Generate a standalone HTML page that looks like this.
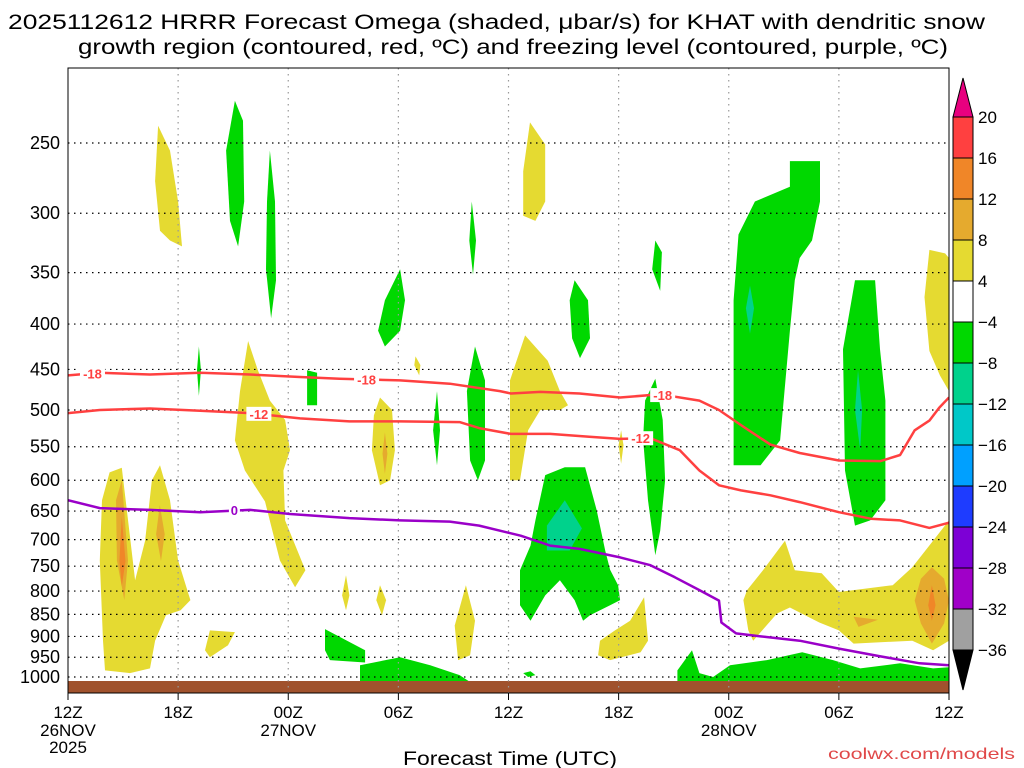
<!DOCTYPE html>
<html><head><meta charset="utf-8"><style>
html,body{margin:0;padding:0;background:#fff;}
svg{display:block;font-family:"Liberation Sans",sans-serif;}
</style></head><body>
<svg id="chart" width="1024" height="768" viewBox="0 0 1024 768" xmlns="http://www.w3.org/2000/svg">
<text x="8" y="29" font-size="21" textLength="977" lengthAdjust="spacingAndGlyphs" fill="#000">2025112612 HRRR Forecast Omega (shaded, μbar/s) for KHAT with dendritic snow</text>
<text x="78" y="54" font-size="21" textLength="870" lengthAdjust="spacingAndGlyphs" fill="#000">growth region (contoured, red, ºC) and freezing level (contoured, purple, ºC)</text>
<clipPath id="pc"><rect x="68" y="68" width="881" height="625"/></clipPath>
<g id="shades" clip-path="url(#pc)"></g>
<rect x="68" y="681" width="881" height="12" fill="#a0522d"/>
<g id="grid"></g>
<g id="contours" clip-path="url(#pc)"></g>
<rect x="68" y="68" width="881" height="625" fill="none" stroke="#000" stroke-width="1"/>
<g id="axes"></g>
<g id="cbar"></g>
<text x="403" y="765" font-size="19" textLength="214" lengthAdjust="spacingAndGlyphs">Forecast Time (UTC)</text>
<text x="828" y="759" font-size="16" textLength="187" lengthAdjust="spacingAndGlyphs" fill="#e04848">coolwx.com/models</text>
</svg>
<script>
// time values below are in "forecast units" of 4/3 hour (36 units = 48 h)
const HOURS_PER_UNIT=48/36;
const pLevels=[250,300,350,400,450,500,550,600,650,700,750,800,850,900,950,1000];
const timeLabels=["12Z","18Z","00Z","06Z","12Z","18Z","00Z","06Z","12Z"];
const cbLevels=[20,16,12,8,4,-4,-8,-12,-16,-20,-24,-28,-32,-36];
const cbColors=["#ff4040","#f08628","#e5aa2e","#e5da31","#ffffff","#00d800","#00d28c","#00c8c8","#00a0ff","#1e3cff","#7d00d6","#a000c8","#a0a0a0"];
const iso18=[[0,457],[1.3,454],[3.35,456],[5.4,454],[7.44,456],[9.48,459],[11.1,461],[13.57,463],[15.6,467],[17.65,476],[18.1,479],[19.3,477],[20.9,479],[22.56,484],[24.2,480],[25.8,488],[26.6,500],[27.5,520],[28.7,547],[29.9,559],[31.5,570],[33.2,571],[34,562],[34.6,527],[35.2,514],[35.6,497],[36,484]];
const iso12=[[0,504],[1.3,500],[3.35,498],[5.4,501],[7.44,504],[9.48,511],[11.5,515],[13.57,515],[16,516],[16.8,524],[18.1,532],[19.7,532],[21.3,536],[22.56,539],[23.8,538],[25,555],[25.8,585],[26.6,608],[27.5,616],[28.7,624],[29.9,635],[31.5,652],[32.8,663],[34,666],[35.2,679],[36,670]];
const iso0=[[0,632],[1.3,645],[3.35,648],[5.4,652],[7.44,648],[9.07,655],[11.5,662],[13.57,666],[15.6,668],[16.8,675],[18.5,693],[19.7,711],[20.9,717],[22.56,733],[23.8,748],[24.8,772],[25.8,798],[26.6,820],[26.7,868],[27.3,893],[28.3,900],[29.9,910],[31.5,929],[33.2,948],[34.8,965],[36,970]];
const contourLabels=[["-18",1.0,455,"#ff4040"],["-18",12.2,462,"#ff4040"],["-18",24.3,481,"#ff4040"],["-12",7.8,505,"#ff4040"],["-12",23.4,538,"#ff4040"],["0",6.8,648,"#9a00c8"]];
const Y="#e5da31",G="#e5aa2e",O="#f08628",Gr="#00d800",T="#00d28c";
const blobs=[
[Y,[[1.7,588],[2.2,581],[2.45,665],[2.74,778],[3.15,702],[3.43,600],[3.76,577],[4.17,632],[4.5,739],[5.0,819],[4.6,841],[4.0,852],[3.56,910],[3.35,978],[2.53,990],[1.51,983],[1.43,910],[1.3,739],[1.39,632]]],
[G,[[2.2,600],[2.45,739],[2.3,819],[2.0,739],[1.96,632]]],
[O,[[2.2,660],[2.35,740],[2.2,790],[2.1,740]]],
[G,[[3.75,640],[3.95,690],[3.8,740],[3.6,690]]],
[Y,[[3.68,239],[4.17,255],[4.5,291],[4.66,327],[4.17,322],[3.76,314],[3.56,276]]],
[Y,[[7.36,418],[7.76,451],[8.25,488],[8.87,513],[9.07,555],[8.8,585],[8.87,666],[9.7,758],[9.28,792],[8.66,739],[8.05,634],[7.23,585],[6.82,541],[7.03,476]]],
[Y,[[12.75,484],[13.24,500],[13.36,555],[13.16,600],[12.75,608],[12.42,555],[12.5,507]]],
[G,[[12.95,530],[13.05,560],[12.95,590],[12.85,560]]],
[Y,[[14.2,435],[14.4,445],[14.35,457],[14.15,445]]],
[Y,[[18.68,412],[19.6,440],[20.1,476],[20.43,494],[20.1,500],[19.3,500],[18.8,527],[18.47,600],[18.06,600],[18.06,463]]],
[Y,[[18.88,237],[19.5,251],[19.5,291],[19.1,306],[18.6,302],[18.6,269]]],
[Y,[[16.26,788],[16.63,864],[16.43,945],[15.94,957],[15.8,875]]],
[Y,[[11.36,768],[11.5,809],[11.36,841],[11.2,809]]],
[Y,[[12.75,788],[13.0,819],[12.83,852],[12.6,819]]],
[Y,[[23.54,813],[23.7,910],[23.4,938],[22.15,957],[21.66,945],[21.74,910],[22.35,886],[22.97,864]]],
[Y,[[5.8,886],[6.82,890],[6.54,921],[5.8,950],[5.6,933]]],
[Y,[[22.6,527],[22.7,548],[22.6,575],[22.5,548]]],
[Y,[[27.6,819],[27.75,798],[28.4,758],[29.3,702],[29.7,758],[30.8,764],[31.5,802],[33.7,788],[34.5,752],[35.35,702],[36,666],[36,910],[35.35,933],[34.5,910],[32.1,917],[31.5,886],[30.7,868],[29.5,835],[28.97,848],[28,910],[27.8,886]]],
[G,[[35.3,752],[35.8,775],[36,820],[35.8,870],[35.3,917],[34.85,870],[34.6,820],[34.85,775]]],
[O,[[35.3,788],[35.45,830],[35.3,864],[35.15,830]]],
[G,[[32.1,855],[33.1,862],[32.3,878]]],
[Y,[[35.2,330],[35.84,333],[36,337],[36,476],[35.63,457],[35.2,429],[35.0,373]]],
[Gr,[[6.82,224],[7.15,236],[7.2,291],[6.95,327],[6.62,306],[6.46,255]]],
[Gr,[[8.25,255],[8.46,291],[8.5,357],[8.3,394],[8.09,347],[8.13,291]]],
[Gr,[[5.35,424],[5.43,451],[5.35,482],[5.27,451]]],
[Gr,[[9.77,451],[10.18,454],[10.18,494],[9.77,494]]],
[Gr,[[13.57,347],[13.77,376],[13.57,407],[12.95,424],[12.67,407],[12.95,376]]],
[Gr,[[16.5,291],[16.67,322],[16.55,352],[16.4,322]]],
[Gr,[[16.63,424],[17.04,463],[17.04,570],[16.75,600],[16.43,570],[16.3,476]]],
[Gr,[[15.08,476],[15.2,527],[15.08,577],[14.92,527]]],
[Gr,[[20.7,357],[21.25,376],[21.33,415],[20.92,437],[20.6,415],[20.5,376]]],
[Gr,[[24,322],[24.27,332],[24.2,367],[23.87,347]]],
[Gr,[[24,461],[24.3,513],[24.4,600],[24.2,684],[24,729],[23.7,632],[23.5,539],[23.58,488]]],
[Gr,[[20.3,580],[21.13,580],[21.6,648],[21.95,720],[22.15,757],[22.48,788],[22.56,819],[22.15,830],[21.33,852],[21.05,864],[20.7,819],[20.1,778],[19.5,809],[18.9,864],[18.47,830],[18.47,758],[18.9,711],[19.1,666],[19.5,592]]],
[T,[[20.3,632],[21.0,680],[20.5,720],[19.57,720],[19.57,675]]],
[Gr,[[29.5,262],[30.73,262],[30.73,291],[30.4,322],[29.9,337],[29.7,357],[29.5,407],[29.1,541],[28.3,577],[27.2,577],[27.2,376],[27.4,317],[28.07,291],[29.5,280]]],
[T,[[27.87,362],[28.03,384],[27.87,410],[27.7,384]]],
[Gr,[[32.16,357],[32.98,357],[33.18,427],[33.4,488],[33.4,632],[32.78,666],[32.16,675],[31.75,585],[31.67,427]]],
[T,[[32.28,451],[32.45,500],[32.37,555],[32.16,500]]],
[Gr,[[11.93,970],[13.57,950],[14.8,970],[16.0,995],[16.43,1013],[11.93,1013]]],
[Gr,[[10.5,883],[12.14,933],[12.14,963],[10.7,957],[10.5,933]]],
[Gr,[[18.6,990],[18.9,985],[19.1,995],[18.8,1000]]],
[Gr,[[24.9,983],[25.5,933],[25.8,990],[26.36,1000],[27.05,970],[28.56,957],[30.0,938],[31.26,957],[32.37,978],[34,965],[35.35,978],[36,975],[36,1013],[24.9,1013]]]
];
const NS="http://www.w3.org/2000/svg";
const X0=68,X1=949,HSPAN=48;
function xs(u){return X0+(X1-X0)*(u*HOURS_PER_UNIT)/HSPAN;}
function xh(h){return X0+(X1-X0)*h/HSPAN;}
function ys(p){return 143+385.2*Math.log(p/250);}
function mk(tag,attrs,parent,txt){const e=document.createElementNS(NS,tag);for(const k in attrs)e.setAttribute(k,attrs[k]);if(txt!==undefined)e.textContent=txt;parent.appendChild(e);return e;}
const sh=document.getElementById('shades');
blobs.forEach((b,i)=>{
  const e=mk('polygon',{points:b[1].map(q=>xs(q[0]).toFixed(1)+','+ys(q[1]).toFixed(1)).join(' '),fill:b[0]},sh);
  
  
});
const gr=document.getElementById('grid');
pLevels.forEach(p=>{
  const l=mk('line',{x1:X0,x2:X1,y1:ys(p),y2:ys(p),stroke:'#000','stroke-width':1.2,'stroke-dasharray':'1.5,4.5'},gr);
  
  
});
for(let h=6;h<HSPAN;h+=6){
  const l=mk('line',{x1:xh(h),x2:xh(h),y1:68,y2:693,stroke:'#999','stroke-width':1.2,'stroke-dasharray':'1.5,4.5'},gr);
  
  
}
const ct=document.getElementById('contours');
[[iso18,'#ff4040','contour-minus18'],[iso12,'#ff4040','contour-minus12'],[iso0,'#9a00c8','freezing-level']].forEach(c=>{
  const e=mk('polyline',{points:c[0].map(q=>xs(q[0]).toFixed(1)+','+ys(q[1]).toFixed(1)).join(' '),fill:'none',stroke:c[1],'stroke-width':2.5,'stroke-linejoin':'round'},ct);
  
  
});
contourLabels.forEach(c=>{
  const w=c[0].length*7+4;
  mk('rect',{x:xs(c[1])-w/2,y:ys(c[2])-7,width:w,height:14,fill:'#fff'},ct);
  const t=mk('text',{x:xs(c[1]),y:ys(c[2])+5,'font-size':13,'font-weight':'bold','text-anchor':'middle',fill:c[3]},ct,c[0]);
  
  
});
const ax=document.getElementById('axes');
pLevels.forEach(p=>{
  const t=mk('text',{x:60,y:ys(p)+6,'font-size':18,'text-anchor':'end'},ax,String(p));
  
  
});
timeLabels.forEach((s,i)=>{
  const x=xh(i*6);
  mk('line',{x1:x,x2:x,y1:693,y2:700,stroke:'#000'},ax);
  const t=mk('text',{x:x,y:718,'font-size':17,'text-anchor':'middle'},ax,s);
  
  
});
[["26NOV",0,736],["2025",0,753],["27NOV",12,736],["28NOV",36,736]].forEach(d=>{
  const t=mk('text',{x:xh(d[1]),y:d[2],'font-size':17,'text-anchor':'middle'},ax,d[0]);
  
  
});
const cb=document.getElementById('cbar');
const CT=117,CS=41,CX=953,CW=20;
const tu=mk('polygon',{points:`${CX},${CT} ${CX+CW},${CT} ${CX+CW/2},78`,fill:'#e8007f',stroke:'#000'},cb);


cbColors.forEach((c,i)=>{
  const r=mk('rect',{x:CX,y:CT+i*CS,width:CW,height:CS,fill:c,stroke:'#000'},cb);
  
  
});
const bot=CT+cbColors.length*CS;
const td=mk('polygon',{points:`${CX},${bot} ${CX+CW},${bot} ${CX+CW/2},${bot+40}`,fill:'#000',stroke:'#000'},cb);


cbLevels.forEach((v,i)=>{
  const t=mk('text',{x:978,y:CT+i*CS+6,'font-size':17},cb,v<0?'\u2212'+(-v):String(v));
  
  
});
</script>
</body></html>
